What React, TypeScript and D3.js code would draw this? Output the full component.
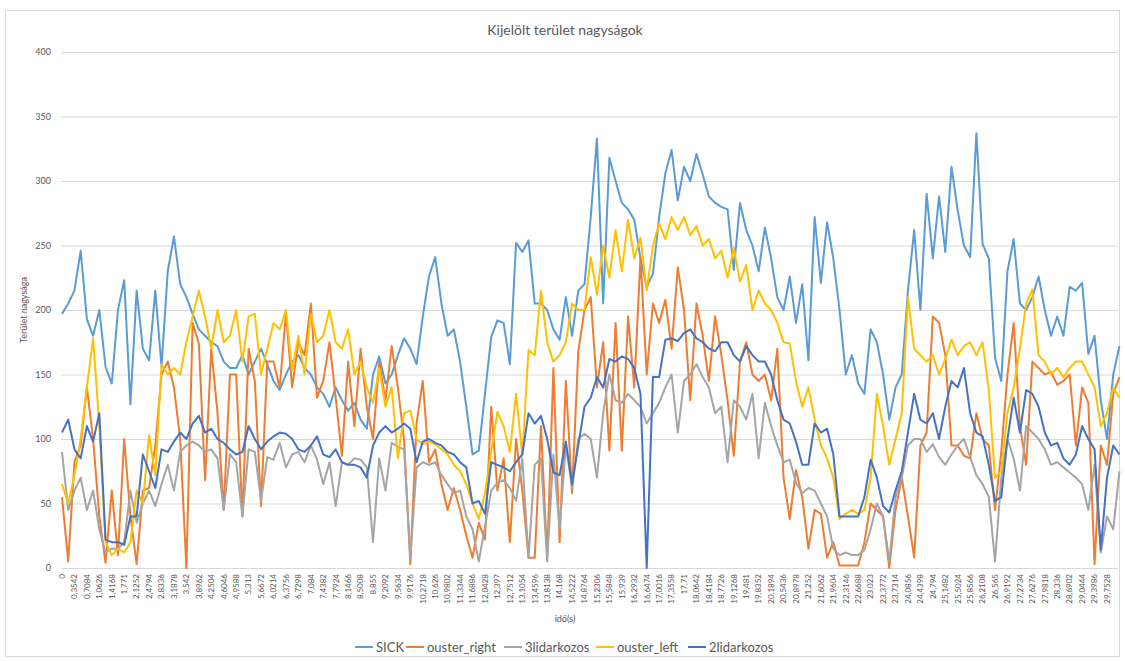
import React from "react";
import * as d3 from "d3";

const TITLE = "Kijelölt terület nagyságok";
const X_TITLE = "idő(s)";
const Y_TITLE = "Terület nagysága";

const Y_TICKS = [0, 50, 100, 150, 200, 250, 300, 350, 400];

const X_LABELS = [
  "0", "0,3542", "0,7084", "1,0626", "1,4168", "1,771", "2,1252", "2,4794", "2,8336", "3,1878",
  "3,542", "3,8962", "4,2504", "4,6046", "4,9588", "5,313", "5,6672", "6,0214", "6,3756", "6,7298",
  "7,084", "7,4382", "7,7924", "8,1466", "8,5008", "8,855", "9,2092", "9,5634", "9,9176", "10,2718",
  "10,626", "10,9802", "11,3344", "11,6886", "12,0428", "12,397", "12,7512", "13,1054", "13,4596", "13,8138",
  "14,168", "14,5222", "14,8764", "15,2306", "15,5848", "15,939", "16,2932", "16,6474", "17,0016", "17,3558",
  "17,71", "18,0642", "18,4184", "18,7726", "19,1268", "19,481", "19,8352", "20,1894", "20,5436", "20,8978",
  "21,252", "21,6062", "21,9604", "22,3146", "22,6688", "23,023", "23,3772", "23,7314", "24,0856", "24,4398",
  "24,794", "25,1482", "25,5024", "25,8566", "26,2108", "26,565", "26,9192", "27,2734", "27,6276", "27,9818",
  "28,336", "28,6902", "29,0444", "29,3986", "29,7528",
];

const SICK = [
  197, 205, 215, 246, 193, 180, 200, 156, 143, 200, 223, 127, 215, 170, 161, 215, 156, 230, 257, 220, 210, 197, 185, 180, 175, 172, 160, 155,
  155, 165, 150, 160, 170, 158, 145, 138, 150, 160, 165, 155, 150, 140, 135, 125, 140, 130, 122, 128, 115, 108, 150, 164, 143, 150, 165, 178,
  170, 158, 195, 226, 241, 205, 180, 185, 160, 125, 88, 91, 135, 179, 192, 190, 158, 252, 245, 254, 205, 205, 200, 185, 177, 210, 180, 215,
  220, 272, 333, 205, 318, 300, 283, 278, 270, 240, 218, 228, 272, 306, 324, 285, 311, 300, 321, 305, 288, 283, 280, 278, 231, 283, 262, 250,
  230, 264, 240, 210, 200, 226, 190, 220, 161, 272, 221, 268, 240, 200, 150, 165, 143, 135, 185, 175, 150, 115, 140, 150, 215, 262, 200, 290,
  240, 288, 245, 311, 277, 250, 241, 337, 251, 240, 163, 145, 230, 255, 205, 200, 210, 226, 200, 180, 195, 180, 218, 215, 221, 166, 180, 130, 100, 150, 172,
];

const OUSTER_RIGHT = [
  55, 5, 82, 95, 140, 100, 40, 4, 60, 10, 100, 40, 3, 60, 62, 95, 150, 160, 140, 100, 0, 190, 174, 68, 170, 120, 45, 150,
  150, 40, 170, 145, 48, 160, 160, 140, 197, 140, 175, 165, 205, 132, 145, 175, 132, 87, 160, 110, 170, 125, 100, 160, 130, 172, 140, 99,
  3, 112, 145, 82, 92, 65, 45, 62, 45, 25, 8, 35, 22, 125, 60, 85, 20, 100, 60, 8, 8, 110, 8, 155, 20, 145, 58, 168,
  200, 210, 140, 175, 91, 190, 91, 195, 140, 241, 150, 205, 190, 208, 170, 233, 200, 130, 205, 180, 145, 195, 165, 130, 87, 160, 175, 150,
  145, 150, 130, 170, 70, 38, 76, 55, 15, 45, 42, 8, 20, 2, 2, 2, 2, 20, 50, 45, 40, 0, 45, 70, 40, 8, 95, 105,
  195, 190, 165, 95, 95, 87, 85, 120, 100, 95, 45, 90, 150, 190, 110, 80, 160, 155, 150, 152, 142, 145, 150, 95, 140, 128, 3, 95, 80, 135, 148,
];

const LIDAR3 = [
  90, 45, 60, 70, 45, 60, 30, 12, 15, 15, 20, 60, 35, 50, 60, 48, 65, 80, 60, 90, 95, 98, 95, 90, 92, 85, 45, 88,
  82, 40, 92, 90, 52, 86, 84, 97, 78, 88, 90, 82, 95, 84, 65, 82, 48, 82, 80, 85, 84, 78, 20, 85, 60, 97, 94, 92,
  8, 78, 82, 80, 82, 72, 65, 58, 60, 40, 30, 5, 32, 60, 66, 68, 62, 52, 85, 8, 80, 85, 5, 88, 30, 95, 62, 100,
  104, 100, 70, 120, 150, 130, 128, 135, 130, 125, 112, 120, 128, 140, 150, 105, 145, 150, 158, 148, 140, 120, 125, 82, 130, 125, 115, 135,
  85, 128, 110, 95, 82, 84, 66, 58, 62, 60, 50, 40, 15, 10, 12, 10, 10, 14, 30, 50, 40, 5, 55, 70, 95, 100, 100, 90,
  96, 86, 80, 88, 95, 100, 86, 72, 65, 55, 5, 70, 100, 85, 60, 110, 105, 100, 92, 80, 82, 78, 74, 70, 65, 45, 80, 12, 40, 30, 75,
];

const OUSTER_LEFT = [
  65, 50, 72, 100, 140, 178, 110, 20, 10, 15, 12, 20, 60, 50, 103, 72, 158, 150, 155, 150, 175, 195, 215, 195, 170, 200, 175, 180,
  200, 160, 195, 197, 150, 170, 190, 185, 200, 153, 180, 150, 197, 175, 180, 200, 175, 170, 185, 150, 160, 140, 128, 155, 125, 140, 85, 120,
  122, 100, 96, 98, 96, 92, 88, 80, 75, 65, 50, 38, 58, 90, 121, 110, 90, 135, 87, 169, 165, 215, 175, 160, 165, 175, 205, 200,
  200, 241, 212, 250, 225, 262, 230, 270, 240, 256, 215, 250, 267, 255, 272, 262, 272, 258, 265, 250, 255, 240, 246, 225, 248, 222, 235, 200,
  215, 205, 200, 190, 175, 174, 145, 125, 140, 115, 95, 85, 70, 38, 42, 45, 42, 45, 70, 135, 110, 80, 100, 120, 210, 170, 165, 160,
  165, 150, 162, 177, 165, 172, 175, 165, 175, 138, 70, 75, 120, 140, 170, 205, 216, 165, 160, 150, 155, 148, 155, 160, 160, 150, 140, 110, 120, 140, 132,
];

const LIDAR2 = [
  105, 115, 92, 85, 110, 98, 120, 22, 20, 20, 18, 40, 40, 88, 75, 62, 92, 90, 98, 105, 100, 112, 118, 105, 108, 100, 97, 92,
  88, 90, 110, 100, 92, 98, 102, 105, 104, 100, 92, 90, 95, 102, 88, 86, 92, 82, 80, 80, 78, 70, 95, 105, 110, 105, 108, 112,
  108, 82, 98, 100, 97, 95, 90, 88, 82, 78, 50, 52, 42, 82, 80, 78, 75, 82, 88, 120, 112, 118, 100, 74, 72, 98, 65, 95,
  125, 132, 148, 140, 162, 160, 164, 162, 155, 135, 0, 148, 148, 177, 178, 176, 182, 185, 178, 175, 170, 168, 175, 175, 165, 160, 172, 165,
  160, 160, 150, 130, 115, 112, 98, 80, 80, 112, 105, 108, 88, 40, 40, 40, 40, 55, 84, 70, 48, 43, 60, 75, 105, 135, 115, 112,
  120, 100, 125, 145, 140, 155, 120, 105, 102, 80, 52, 55, 100, 132, 105, 138, 135, 125, 105, 95, 97, 85, 80, 88, 110, 100, 92, 14, 70, 95, 88,
];

const SERIES_NAMES = ["SICK", "ouster_right", "3lidarkozos", "ouster_left", "2lidarkozos"];
const SERIES_VALUES = [SICK, OUSTER_RIGHT, LIDAR3, OUSTER_LEFT, LIDAR2];
const COLORS = ["#5B9BD5", "#ED7D31", "#A5A5A5", "#FFC000", "#4472C4"];

const W = 1125;
const H = 661;
const FONT = "Lato, 'Open Sans', sans-serif";

export default function App() {
  const x = d3.scaleLinear().domain([0, 168]).range([62, 1107]);
  const y = d3.scaleLinear().domain([0, 400]).range([568, 52]);
  const line = d3
    .line<number>()
    .x((_, i) => x(i))
    .y((d) => y(d));

  const legendX = [355, 406, 504, 596, 688];

  return (
    <svg
      width={W}
      height={H}
      style={{ position: "absolute", left: 0, top: 0, background: "#fff" }}
      fontFamily={FONT}
    >
      <rect x={5.5} y={10.5} width={1114} height={646} fill="#fff" stroke="#d9d9d9" />
      <text x={565} y={35} textAnchor="middle" fontSize={14} fill="#595959">
        {TITLE}
      </text>

      {Y_TICKS.map((t) => (
        <g key={t}>
          <line x1={61} x2={1118} y1={y(t) + 0.5} y2={y(t) + 0.5} stroke="#d9d9d9" strokeWidth={1} />
          <text x={51} y={y(t)} dy="0.35em" textAnchor="end" fontSize={9} fill="#595959">
            {t}
          </text>
        </g>
      ))}

      <text
        transform={`translate(27,${310}) rotate(-90)`}
        textAnchor="middle"
        fontSize={9}
        fill="#595959"
      >
        {Y_TITLE}
      </text>

      {X_LABELS.map((lab, k) => (
        <text
          key={lab}
          transform={`translate(${x(k * 2)},574) rotate(-90)`}
          textAnchor="end"
          dy="0.35em"
          fontSize={8}
          fill="#595959"
        >
          {lab}
        </text>
      ))}

      <text x={565} y={622} textAnchor="middle" fontSize={9} fill="#595959">
        {X_TITLE}
      </text>

      {SERIES_VALUES.map((vals, s) => (
        <path
          key={SERIES_NAMES[s]}
          d={line(vals) || ""}
          fill="none"
          stroke={COLORS[s]}
          strokeWidth={2}
          strokeLinejoin="round"
        />
      ))}

      {SERIES_NAMES.map((name, s) => (
        <g key={name}>
          <line
            x1={legendX[s]}
            x2={legendX[s] + 18}
            y1={647}
            y2={647}
            stroke={COLORS[s]}
            strokeWidth={2}
          />
          <text x={legendX[s] + 21} y={647} dy="0.35em" fontSize={13} fill="#595959">
            {name}
          </text>
        </g>
      ))}
    </svg>
  );
}
